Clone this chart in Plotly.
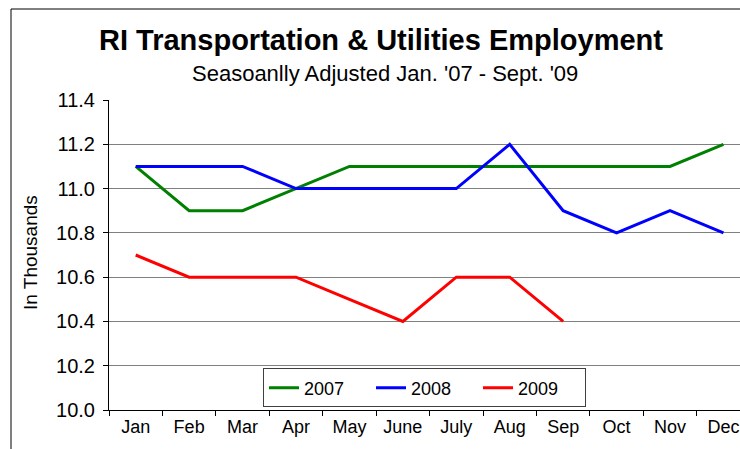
import plotly.graph_objects as go

months = ["Jan", "Feb", "Mar", "Apr", "May", "June", "July", "Aug", "Sep", "Oct", "Nov", "Dec"]
y2007 = [11.1, 10.9, 10.9, 11.0, 11.1, 11.1, 11.1, 11.1, 11.1, 11.1, 11.1, 11.2]
y2008 = [11.1, 11.1, 11.1, 11.0, 11.0, 11.0, 11.0, 11.2, 10.9, 10.8, 10.9, 10.8]
y2009 = [10.7, 10.6, 10.6, 10.6, 10.5, 10.4, 10.6, 10.6, 10.4]
yticks = [10.0, 10.2, 10.4, 10.6, 10.8, 11.0, 11.2, 11.4]

W, H = 740, 449
L, R, T, B = 109, 0, 100, 39

fig = go.Figure()
for name, ys, col in [("2007", y2007, "#008000"), ("2008", y2008, "#0000FF"), ("2009", y2009, "#FF0000")]:
    fig.add_trace(go.Scatter(x=months[:len(ys)], y=ys, mode="lines", name=name,
                             line=dict(color=col, width=3)))

fig.update_layout(
    width=W, height=H,
    margin=dict(l=L, r=R, t=T, b=B),
    paper_bgcolor="white", plot_bgcolor="white",
    font=dict(family="Liberation Sans, Arial", color="black"),
    showlegend=True,
    legend=dict(orientation="h", x=0.5, y=0.071, xanchor="center", yanchor="middle",
                bgcolor="white", bordercolor="#404040", borderwidth=1,
                font=dict(size=18), entrywidth=62, entrywidthmode="pixels",
                itemwidth=30, tracegroupgap=0),
    annotations=[
        dict(text="<b>RI Transportation &amp; Utilities Employment</b>", x=381, y=H - 40,
             xref="paper", yref="paper", showarrow=False, font=dict(size=29),
             xanchor="center", yanchor="middle"),
        dict(text="Seasoanlly Adjusted Jan. '07 - Sept. '09", x=385, y=H - 74,
             xref="paper", yref="paper", showarrow=False, font=dict(size=22),
             xanchor="center", yanchor="middle"),
        dict(text="In Thousands", x=30, y=H - 253, textangle=-90,
             xref="paper", yref="paper", showarrow=False, font=dict(size=19),
             xanchor="center", yanchor="middle"),
    ],
)
pw, ph = W - L - R, H - T - B
for a in fig.layout.annotations:
    a.x = (a.x - L) / pw
    a.y = (a.y - B) / ph

fig.update_xaxes(range=[-0.5, 11.31], tickson="boundaries", ticks="outside", ticklen=5,
                 tickcolor="black", showline=True, linecolor="black", linewidth=1,
                 showgrid=False, tickfont=dict(size=18), fixedrange=True)
fig.update_yaxes(range=[10.0, 11.4], tickvals=yticks, ticktext=[f"{v:.1f}" for v in yticks],
                 ticks="outside", ticklen=5, tickcolor="black",
                 showline=True, linecolor="black", linewidth=1,
                 showgrid=True, gridcolor="#808080", gridwidth=1, zeroline=False,
                 tickfont=dict(size=20), ticklabelstandoff=4)

fig.add_shape(type="line", xref="paper", yref="paper",
              x0=(11 - L) / pw, x1=(11 - L) / pw, y0=(0 - B) / ph, y1=(H - 9 - B) / ph,
              line=dict(color="black", width=1))
fig.add_shape(type="line", xref="paper", yref="paper",
              x0=(11 - L) / pw, x1=(W - L) / pw, y0=(H - 9 - B) / ph, y1=(H - 9 - B) / ph,
              line=dict(color="black", width=1))

fig.write_html("out.html", config={"displayModeBar": False})

with open("out.html", encoding="utf-8") as f:
    html = f.read()
html = html.replace("<head>", "<head><style>html,body{margin:0;padding:0;overflow:hidden;}</style>", 1)
with open("out.html", "w", encoding="utf-8") as f:
    f.write(html)
